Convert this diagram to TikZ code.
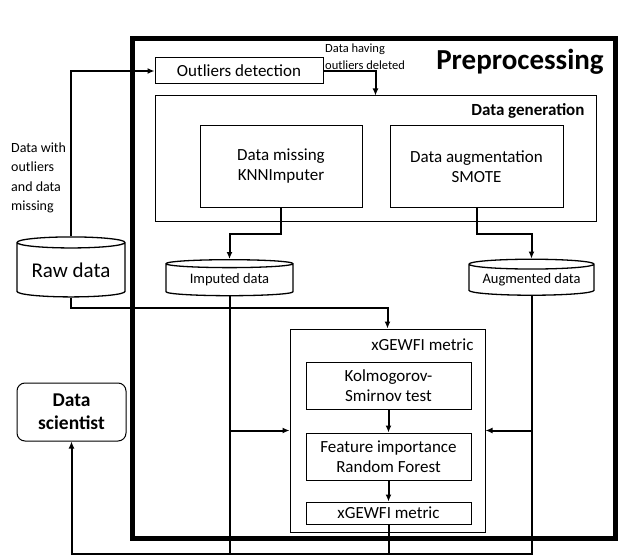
\documentclass[tikz,border=0pt]{standalone}
\usepackage{fontspec}
\setmainfont{Carlito}
\usetikzlibrary{positioning}
\usetikzlibrary{arrows.meta}
\usetikzlibrary{shapes.geometric}

\begin{document}
\begin{tikzpicture}[
    x = 1pt,
    y = -1pt,
    >={Latex[length=7pt,width=6pt]},
    font = \fontsize{17}{20}\selectfont,
    prepf/.style = {
      rectangle,
      draw,
      line width=5pt,
      minimum width=483pt,
      minimum height=499pt
    },
    boxf/.style = {
      rectangle,
      draw,
      line width=1pt,
      align=center,
      inner sep=0pt
    },
    storef/.style = {
      cylinder,
      shape border rotate=90,
      draw,
      line width=1.3pt,
      inner sep=0pt,
      aspect=0.1
    },
    linkf/.style = {
      line width=2pt
    }
  ]
    \useasboundingbox (0,0) rectangle (626,556);

    \node[prepf] (prep) at (373.5,288.5) {};
    \node[font=\bfseries\fontsize{29}{34}\selectfont] (preptxt) at (520,62) {Preprocessing};

    \node[boxf, minimum width=168pt, minimum height=26pt] (outl) at (239,71) {Outliers detection};
    \node[boxf, minimum width=441pt, minimum height=125pt] (gen) at (375.5,158.5) {};
    \node[font=\bfseries\fontsize{17}{20}\selectfont, anchor=east] (gentxt) at (588,111) {Data generation};
    \node[boxf, minimum width=162pt, minimum height=81pt] (knn) at (281,166.5) {Data missing\\KNNImputer};
    \node[boxf, minimum width=173pt, minimum height=81pt] (smote) [right=27pt of knn] {Data augmentation\\SMOTE};

    \node[storef, minimum width=127pt, minimum height=36pt, font=\fontsize{14.5}{17}\selectfont] (imp) at (229.5,280) {Imputed data};
    \node[storef, minimum width=125pt, minimum height=36pt, font=\fontsize{14.5}{17}\selectfont] (aug) at (531.5,280) {Augmented data};
    \node[storef, minimum width=108pt, minimum height=60pt, aspect=0.14, font=\fontsize{21}{25}\selectfont] (raw) at (71,270) {Raw data};

    \node[boxf, minimum width=195pt, minimum height=203pt] (metric) at (387.5,430.5) {};
    \node[anchor=east] (metrictxt) at (477,345) {xGEWFI metric};
    \node[boxf, minimum width=165pt, minimum height=47pt] (ks) at (388.5,385.5) {Kolmogorov-\\Smirnov test};
    \node[boxf, minimum width=165pt, minimum height=47pt] (fi) [below=23pt of ks] {Feature importance\\Random Forest};
    \node[boxf, minimum width=165pt, minimum height=22pt] (xg) [below=21pt of fi] {xGEWFI metric};

    \node[boxf, rounded corners=8pt, minimum width=109pt, minimum height=58pt,
      font=\bfseries\fontsize{19.5}{23}\selectfont] (sci) at (71.5,412) {Data\\scientist};

    \node[align=left, anchor=west, inner sep=0pt, font=\fontsize{14}{19.5}\selectfont] (rawtxt) at (11,178) {Data with\\outliers\\and data\\missing};
    \node[align=left, anchor=west, inner sep=0pt, font=\fontsize{12.5}{17}\selectfont] (outltxt) at (325,57) {Data having\\outliers deleted};

    \coordinate (bus) at (0,554);

    \draw[linkf, ->] (raw.north) |- (outl.west);
    \draw[linkf, ->] (outl.east) -| (gen.north);
    \draw[linkf, ->] (knn.south) -- ++(0,26) -| (imp.north);
    \draw[linkf, ->] (smote.south) -- ++(0,26) -| (aug.north);
    \draw[linkf, ->] (raw.south) -- ++(0,10) -| (metric.north);

    \draw[linkf] (imp.south) -- (imp.south |- bus);
    \draw[linkf] (xg.south) -- (xg.south |- bus);
    \draw[linkf, ->] (aug.south) -- (aug.south |- bus) -| (sci.south);
    \draw[linkf, ->] (imp.south |- metric.west) -- (metric.west);
    \draw[linkf, ->] (aug.south |- metric.east) -- (metric.east);

    \draw[linkf, ->] (ks) -- (fi);
    \draw[linkf, ->] (fi) -- (xg);

  \end{tikzpicture}
\end{document}
